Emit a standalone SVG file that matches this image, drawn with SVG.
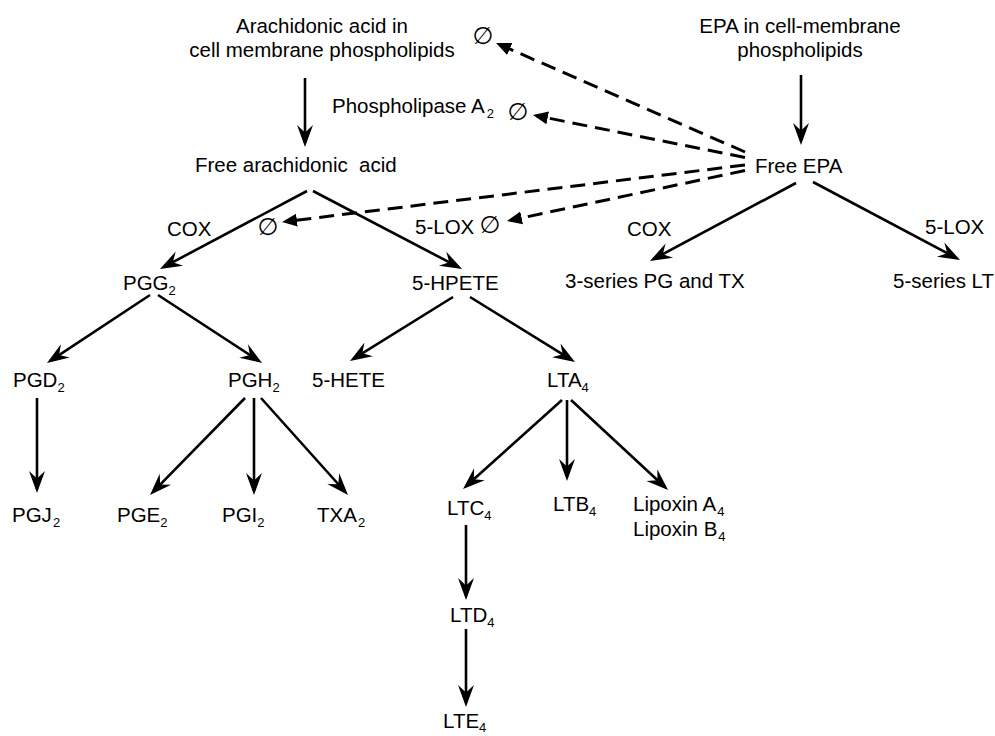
<svg xmlns="http://www.w3.org/2000/svg" width="995" height="736" viewBox="0 0 995 736">
<style>
text { font-family: "Liberation Sans", Arial, sans-serif; font-size: 20.5px; fill: #000; }
.mid { text-anchor: middle; }
.sub { font-size: 13px; }
.null { font-family: "DejaVu Sans", sans-serif; font-size: 24px; text-anchor: middle; }
.solid { stroke: #000; stroke-width: 2.6; fill: none; marker-end: url(#head); }
.dash { stroke: #000; stroke-width: 3; fill: none; stroke-dasharray: 15 8; marker-end: url(#tri); }
</style>
<defs>
<marker id="head" markerUnits="userSpaceOnUse" viewBox="0 -10 24 20" markerWidth="24" markerHeight="20" refX="18" refY="0" orient="auto">
<path d="M22,0 L0,-8 L7.5,0 L0,8 Z" fill="#000"/>
</marker>
<marker id="tri" markerUnits="userSpaceOnUse" viewBox="0 -8 18 16" markerWidth="18" markerHeight="16" refX="11" refY="0" orient="auto">
<path d="M15,0 L0,-6.5 L0,6.5 Z" fill="#000"/>
</marker>
</defs>

<g id="connectors">
<line class="solid" x1="305" y1="78" x2="305" y2="143"/>
<line class="solid" x1="801" y1="75" x2="801" y2="141"/>
<line class="solid" x1="307" y1="191" x2="163.5" y2="267.1"/>
<line class="solid" x1="313" y1="191" x2="458.5" y2="267.1"/>
<line class="solid" x1="796" y1="183" x2="653.5" y2="259.1"/>
<line class="solid" x1="813" y1="182" x2="956.5" y2="258.1"/>
<line class="solid" x1="150" y1="295" x2="50.3" y2="360.8"/>
<line class="solid" x1="158" y1="295" x2="258.7" y2="360.8"/>
<line class="solid" x1="453" y1="297" x2="353.4" y2="358.9"/>
<line class="solid" x1="470" y1="297" x2="571.6" y2="359.9"/>
<line class="solid" x1="37" y1="398" x2="37" y2="489"/>
<line class="solid" x1="245" y1="398" x2="152.8" y2="492.1"/>
<line class="solid" x1="254" y1="398" x2="254" y2="491"/>
<line class="solid" x1="261" y1="398" x2="345.3" y2="492"/>
<line class="solid" x1="562" y1="400" x2="466" y2="486.3"/>
<line class="solid" x1="567" y1="400" x2="567" y2="477"/>
<line class="solid" x1="571" y1="400" x2="665.1" y2="487.3"/>
<line class="solid" x1="466" y1="525" x2="466" y2="596"/>
<line class="solid" x1="466" y1="629" x2="466" y2="703"/>
<line class="dash" x1="745" y1="152" x2="499.7" y2="44.6"/>
<line class="dash" x1="745" y1="157.5" x2="536.9" y2="115.8"/>
<line class="dash" x1="745" y1="165" x2="286" y2="221.5"/>
<line class="dash" x1="745" y1="170.5" x2="510.9" y2="220.2"/>
</g>

<g id="arachidonic-membrane">
<text class="mid" x="322" y="33">Arachidonic acid in</text>
<text class="mid" x="322" y="57">cell membrane phospholipids</text>
</g>
<g id="phospholipase"><text x="332" y="113">Phospholipase A<tspan class="sub" dx="2" dy="5">2</tspan></text></g>
<g id="free-arachidonic"><text x="195" y="172" xml:space="preserve">Free arachidonic  acid</text></g>
<g id="epa-membrane">
<text class="mid" x="800" y="33">EPA in cell-membrane</text>
<text class="mid" x="800" y="57">phospholipids</text>
</g>
<g id="free-epa"><text x="755" y="173">Free EPA</text></g>

<g id="inhib-1"><text class="null" x="483" y="44">∅</text></g>
<g id="inhib-2"><text class="null" x="518" y="120">∅</text></g>
<g id="inhib-3"><text class="null" x="268" y="235">∅</text></g>
<g id="inhib-4"><text class="null" x="490" y="233">∅</text></g>

<g id="cox-label"><text x="167" y="236">COX</text></g>
<g id="lox-label"><text x="415" y="234">5-LOX</text></g>
<g id="cox-label-epa"><text x="627" y="236">COX</text></g>
<g id="lox-label-epa"><text x="925" y="234">5-LOX</text></g>

<g id="series3"><text x="565" y="288">3-series PG and TX</text></g>
<g id="series5"><text x="893" y="288">5-series LT</text></g>

<g id="PGG2"><text x="123" y="290">PGG<tspan class="sub" dy="5">2</tspan></text></g>
<g id="HPETE"><text x="412" y="290">5-HPETE</text></g>

<g id="PGD2"><text x="13" y="387">PGD<tspan class="sub" dy="5">2</tspan></text></g>
<g id="PGH2"><text x="228" y="387">PGH<tspan class="sub" dy="5">2</tspan></text></g>
<g id="HETE"><text x="312" y="387">5-HETE</text></g>
<g id="LTA4"><text x="547" y="387">LTA<tspan class="sub" dy="5">4</tspan></text></g>

<g id="PGJ2"><text x="12" y="522">PGJ<tspan class="sub" dx="1" dy="5">2</tspan></text></g>
<g id="PGE2"><text x="117" y="522">PGE<tspan class="sub" dy="5">2</tspan></text></g>
<g id="PGI2"><text x="222" y="522">PGI<tspan class="sub" dy="5">2</tspan></text></g>
<g id="TXA2"><text x="317" y="522">TXA<tspan class="sub" dx="1" dy="5">2</tspan></text></g>

<g id="LTC4"><text x="447" y="515">LTC<tspan class="sub" dy="5">4</tspan></text></g>
<g id="LTB4"><text x="553" y="511">LTB<tspan class="sub" dy="5">4</tspan></text></g>
<g id="lipoxins">
<text x="633" y="511">Lipoxin A<tspan class="sub" dx="1" dy="5">4</tspan></text>
<text x="633" y="536">Lipoxin B<tspan class="sub" dx="1" dy="5">4</tspan></text>
</g>
<g id="LTD4"><text x="450" y="622">LTD<tspan class="sub" dy="5">4</tspan></text></g>
<g id="LTE4"><text x="443" y="728">LTE<tspan class="sub" dy="4">4</tspan></text></g>
</svg>
